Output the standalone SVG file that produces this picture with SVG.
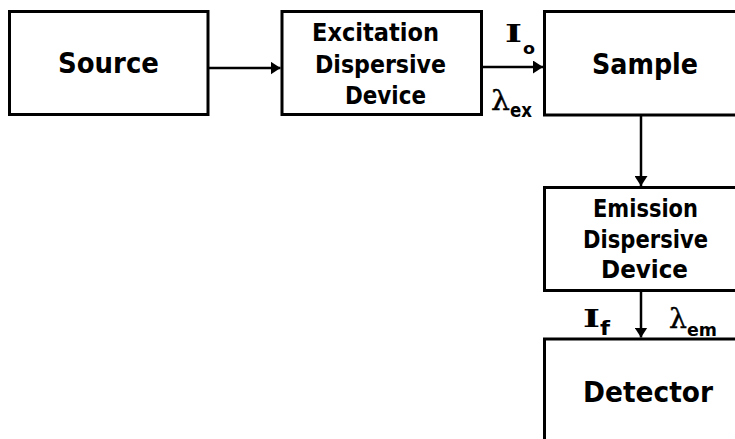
<svg xmlns="http://www.w3.org/2000/svg" width="735" height="439" viewBox="0 0 735 439">
<style>
.box{fill:#fff;stroke:#000;stroke-width:3}
.conn{stroke:#000;stroke-width:2.5;fill:none}
.big{font-family:"Comic Sans MS","DejaVu Sans",sans-serif;font-weight:bold;font-size:29px;fill:#000}
.mid{font-family:"Comic Sans MS","DejaVu Sans",sans-serif;font-weight:bold;font-size:24px;fill:#000}
.sym{font-family:"DejaVu Serif",serif;font-weight:bold;font-size:24px;fill:#000}
.lam{font-family:"DejaVu Serif",serif;font-size:27px;fill:#000;stroke:#000;stroke-width:0.4}
.sub{font-family:"Comic Sans MS","DejaVu Sans",sans-serif;font-weight:bold;fill:#000}
</style>
<defs>
<marker id="ah" markerUnits="userSpaceOnUse" markerWidth="10" markerHeight="13" refX="10" refY="6.5" orient="auto">
<path d="M0,0 L10,6.5 L0,13 z" fill="#000"/>
</marker>
</defs>
<rect width="735" height="439" fill="#fff"/>
<g id="connectors">
<line class="conn" x1="208" y1="68" x2="280.5" y2="68" marker-end="url(#ah)"/>
<line class="conn" x1="481.5" y1="67" x2="543" y2="67" marker-end="url(#ah)"/>
<line class="conn" x1="641" y1="115" x2="641" y2="186" marker-end="url(#ah)"/>
<line class="conn" x1="641" y1="290.5" x2="641" y2="337.5" marker-end="url(#ah)"/>
</g>
<g id="source">
<rect class="box" x="9.5" y="11.5" width="198.5" height="103"/>
<text class="big" x="58" y="73" textLength="101" lengthAdjust="spacingAndGlyphs">Source</text>
</g>
<g id="excitation">
<rect class="box" x="282" y="11.5" width="199.5" height="103"/>
<text class="mid" x="312" y="41" textLength="127" lengthAdjust="spacingAndGlyphs">Excitation</text>
<text class="mid" x="315" y="73" textLength="131" lengthAdjust="spacingAndGlyphs">Dispersive</text>
<text class="mid" x="345" y="104" textLength="81" lengthAdjust="spacingAndGlyphs">Device</text>
</g>
<g id="sample">
<rect class="box" x="544.5" y="11.5" width="194" height="103.5"/>
<text class="big" x="592" y="74" textLength="106" lengthAdjust="spacingAndGlyphs">Sample</text>
</g>
<g id="emission">
<rect class="box" x="544.5" y="187.5" width="194" height="103"/>
<text class="mid" x="593" y="217" textLength="105" lengthAdjust="spacingAndGlyphs">Emission</text>
<text class="mid" x="583" y="248" textLength="125" lengthAdjust="spacingAndGlyphs">Dispersive</text>
<text class="mid" x="601" y="278" textLength="87" lengthAdjust="spacingAndGlyphs">Device</text>
</g>
<g id="detector">
<rect class="box" x="544.5" y="339" width="194" height="110"/>
<text class="big" x="583" y="402" textLength="130" lengthAdjust="spacingAndGlyphs">Detector</text>
</g>
<g id="labels">
<text class="sym" x="505" y="42" textLength="17" lengthAdjust="spacingAndGlyphs">I</text>
<text class="sub" x="523" y="54" font-size="16" textLength="12" lengthAdjust="spacingAndGlyphs">o</text>
<text class="lam" x="491" y="110" textLength="19" lengthAdjust="spacingAndGlyphs">λ</text>
<text class="sub" x="510" y="117" font-size="19" textLength="22" lengthAdjust="spacingAndGlyphs">ex</text>
<text class="sym" x="583" y="327" textLength="17" lengthAdjust="spacingAndGlyphs">I</text>
<text class="sub" x="600" y="335" font-size="20" textLength="10" lengthAdjust="spacingAndGlyphs">f</text>
<text class="lam" x="669" y="328" textLength="18" lengthAdjust="spacingAndGlyphs">λ</text>
<text class="sub" x="687" y="336" font-size="17" textLength="30" lengthAdjust="spacingAndGlyphs">em</text>
</g>
</svg>
